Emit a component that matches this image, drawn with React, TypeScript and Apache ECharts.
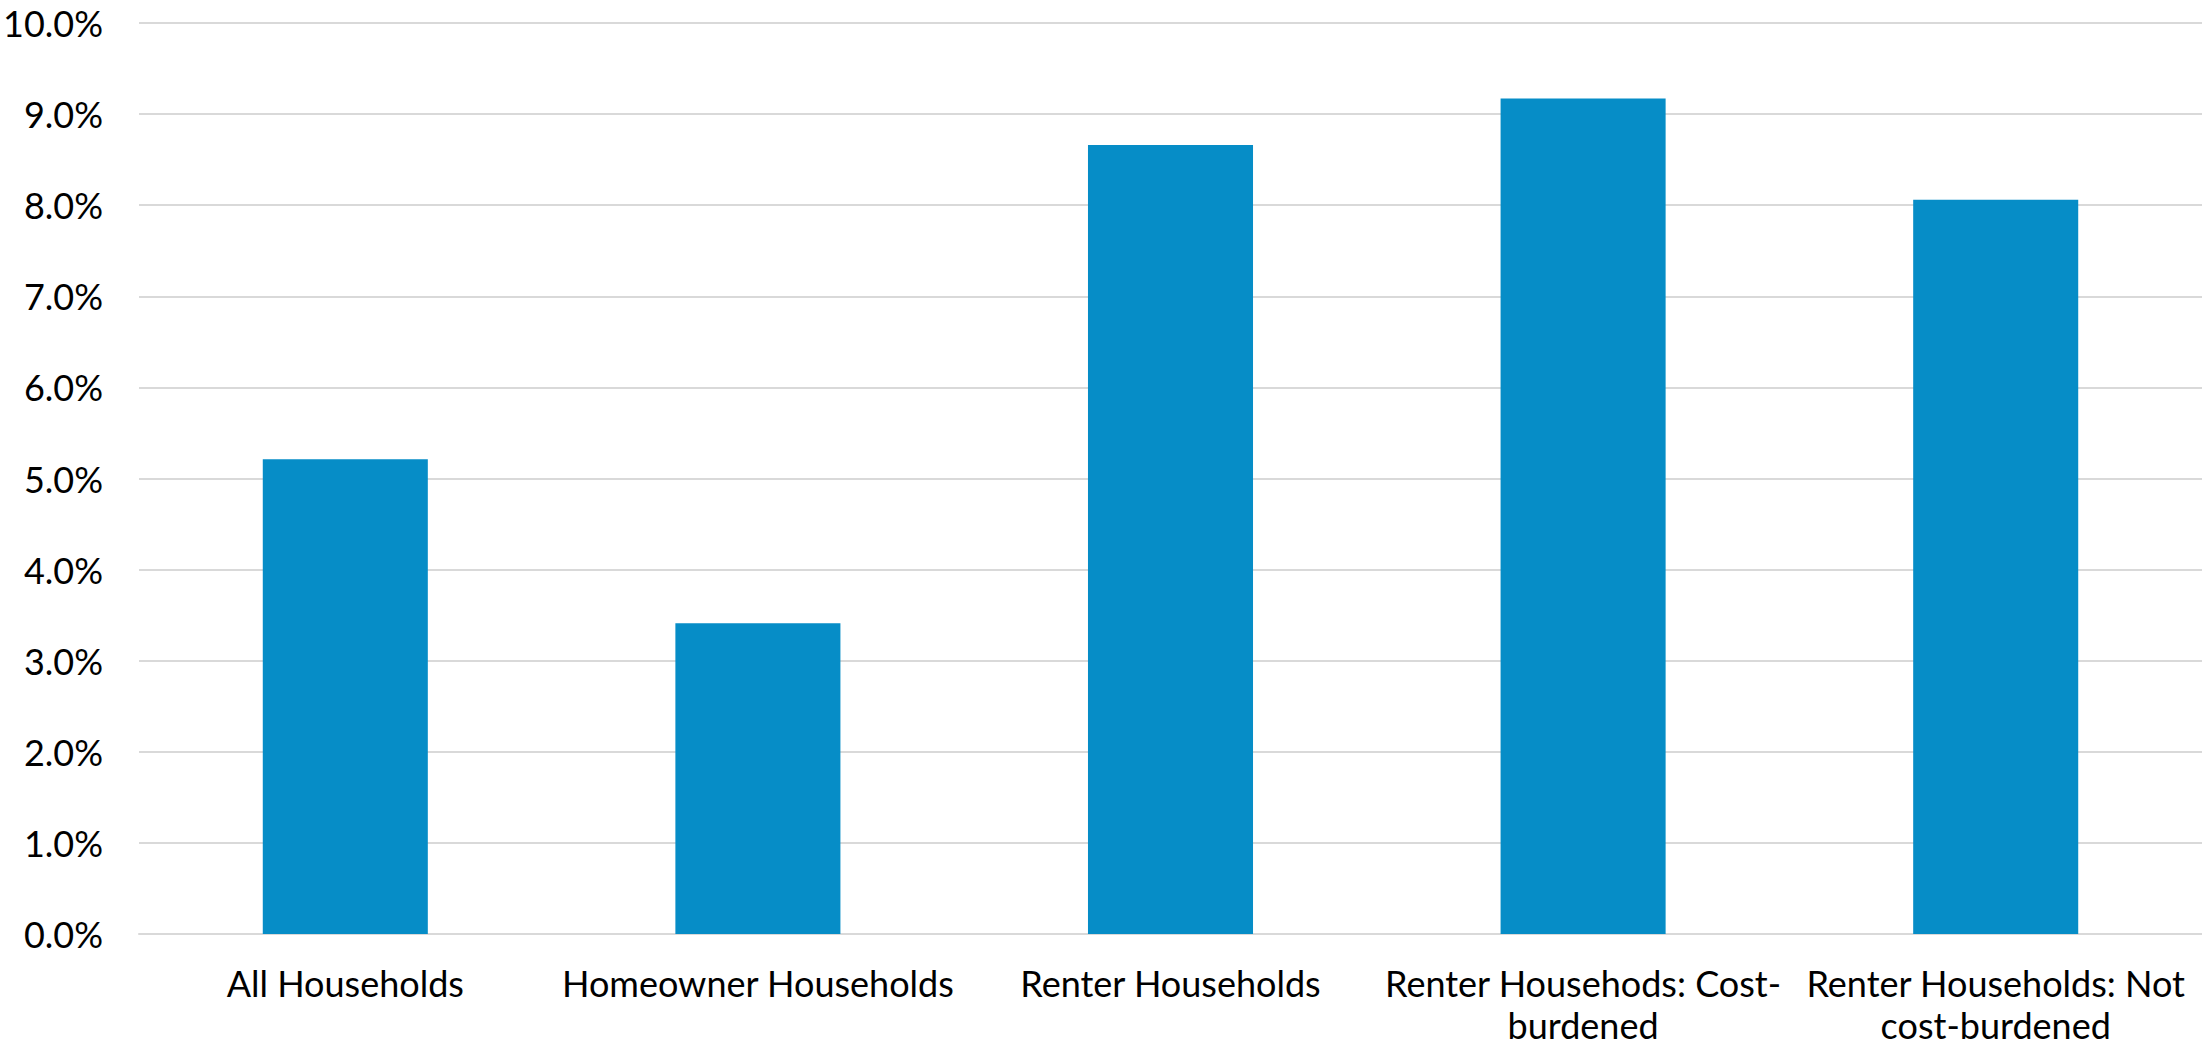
import React, { useEffect, useRef } from "react";
import * as echarts from "echarts";

const categories = [
  "All Households",
  "Homeowner Households",
  "Renter Households",
  "Renter Househods: Cost-\nburdened",
  "Renter Households: Not\ncost-burdened",
];
const values = [5.21, 3.41, 8.66, 9.17, 8.06];
const yMin = 0;
const yMax = 10;
const yInterval = 1;

export default function App() {
  const ref = useRef<HTMLDivElement>(null);
  useEffect(() => {
    if (!ref.current) return;
    const chart = echarts.init(ref.current, null, { renderer: "svg" });
    chart.setOption({
      animation: false,
      backgroundColor: "#ffffff",
      grid: { left: 139, right: 0, top: 23, bottom: 118, containLabel: false },
      xAxis: {
        type: "category",
        data: categories,
        axisLine: { show: true, lineStyle: { color: "#d9d9d9", width: 2 } },
        axisTick: { show: false },
        axisLabel: {
          interval: 0,
          margin: 28,
          color: "#000000",
          fontFamily: "Lato",
          fontSize: 36,
          lineHeight: 42,
          align: "center",
        },
      },
      yAxis: {
        type: "value",
        min: yMin,
        max: yMax,
        interval: yInterval,
        axisLine: { show: false },
        axisTick: { show: false },
        splitLine: { show: true, lineStyle: { color: "#d9d9d9", width: 2 } },
        axisLabel: {
          margin: 36,
          color: "#000000",
          fontFamily: "Lato",
          fontSize: 36,
          formatter: (v: number) => v.toFixed(1) + "%",
        },
      },
      series: [
        {
          type: "bar",
          data: values,
          barWidth: "40%",
          itemStyle: { color: "#068DC7" },
        },
      ],
    });
    return () => chart.dispose();
  }, []);
  return (
    <div
      ref={ref}
      style={{ position: "absolute", left: 0, top: 0, width: 2202, height: 1052 }}
    />
  );
}
